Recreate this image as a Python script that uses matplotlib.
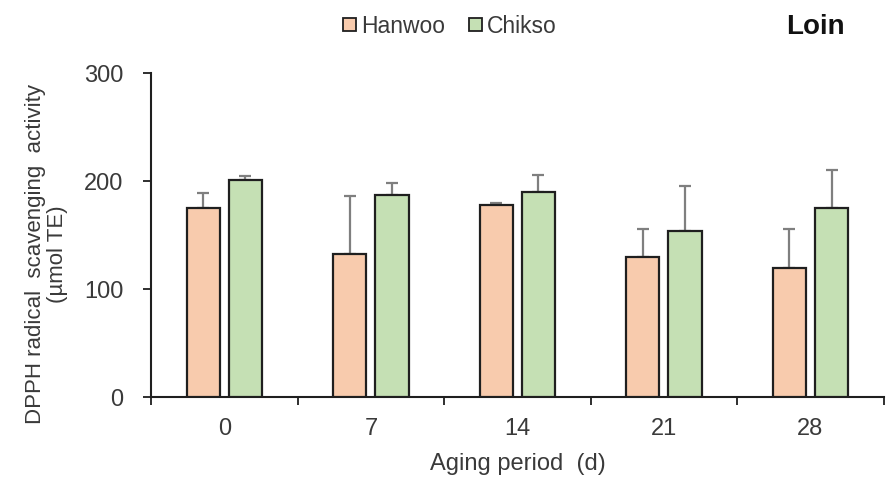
#DPPH radical scavenging activity of loin, Hanwoo vs Chikso, over aging period
import matplotlib.pyplot as plt
import numpy as np
from matplotlib.patches import Patch

plt.rcParams['font.family'] = ['Liberation Sans', 'DejaVu Sans']

#Values
days = ['0', '7', '14', '21', '28']
hanwoo = [175, 133, 178, 130, 120]
hanwoo_err = [14, 53, 2, 26, 36]
chikso = [201, 187, 190, 154, 175]
chikso_err = [4, 11, 16, 42, 35]

hanwoo_col = '#F8CBAD'
chikso_col = '#C5E0B4'
edge_col = '#1f1f1f'
err_col = '#7f7f7f'
text_col = '#3a3a3a'

fig = plt.figure(figsize=(8.89, 4.82), dpi=100)
ax = fig.add_axes([0.170, 0.176, 0.824, 0.672])

x = np.arange(len(days))
w = 0.226
off = 0.144

ax.bar(x - off, hanwoo, w, color=hanwoo_col, edgecolor=edge_col, linewidth=1.6, zorder=3)
ax.bar(x + off, chikso, w, color=chikso_col, edgecolor=edge_col, linewidth=1.6, zorder=3)

#only upper error bars
ax.errorbar(x - off, hanwoo, yerr=[np.zeros(len(days)), hanwoo_err], fmt='none',
            ecolor=err_col, elinewidth=1.6, capsize=4.6, capthick=1.6, zorder=2)
ax.errorbar(x + off, chikso, yerr=[np.zeros(len(days)), chikso_err], fmt='none',
            ecolor=err_col, elinewidth=1.6, capsize=4.6, capthick=1.6, zorder=2)

ax.set_xlim(-0.5, len(days) - 0.5)
ax.set_ylim(0, 300)
ax.set_yticks([0, 100, 200, 300])

ax.set_xticks(x)
ax.set_xticklabels(days)
ax.set_xticks(np.arange(-0.5, len(days)), minor=True)
ax.tick_params(axis='x', which='major', length=0, pad=15, labelsize=17, labelcolor=text_col)
ax.tick_params(axis='x', which='minor', length=6, width=1.3, color=edge_col, direction='out')
ax.tick_params(axis='y', length=6, width=1.3, color=edge_col, pad=14, labelsize=17, labelcolor=text_col)

for s in ['top', 'right']:
    ax.spines[s].set_visible(False)
for s in ['left', 'bottom']:
    ax.spines[s].set_linewidth(1.5)
    ax.spines[s].set_color(edge_col)

ax.set_xlabel('Aging period  (d)', fontsize=17, color=text_col, labelpad=9)
ax.set_ylabel('DPPH radical  scavenging  activity\n(\u00b5mol TE)', fontsize=16,
              color=text_col, linespacing=1.1)
ax.yaxis.set_label_coords(-0.113, 0.441)

handles = [Patch(facecolor=hanwoo_col, edgecolor=edge_col, linewidth=1.3, label='Hanwoo'),
           Patch(facecolor=chikso_col, edgecolor=edge_col, linewidth=1.3, label='Chikso')]
fig.legend(handles=handles, loc='center', bbox_to_anchor=(0.506, 0.946), ncol=2, frameon=False,
           handlelength=0.55, handleheight=0.55, handletextpad=0.22, columnspacing=1.05,
           prop={'size': 16.5}, labelcolor=text_col)

fig.text(0.917, 0.944, 'Loin', fontsize=20, fontweight='bold', ha='center', va='center', color='#111111')

fig.savefig('out.png', dpi=100)
